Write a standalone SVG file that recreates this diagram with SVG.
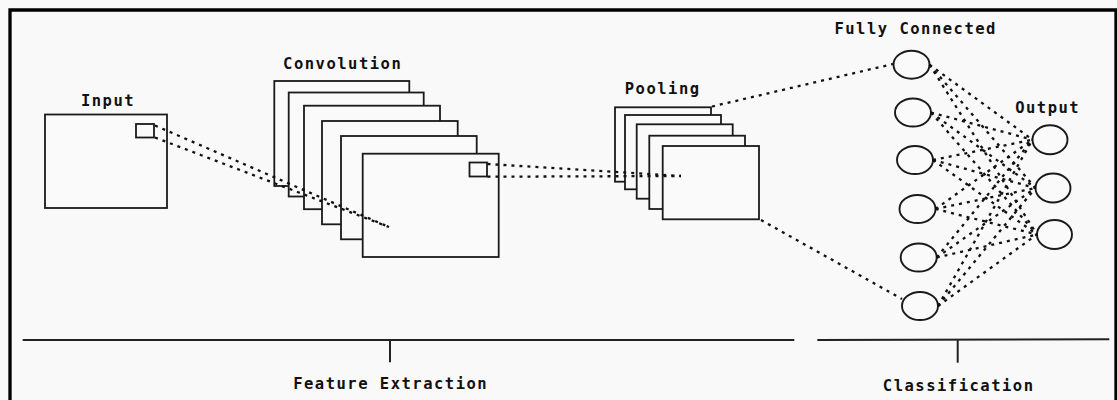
<svg xmlns="http://www.w3.org/2000/svg" width="1117" height="400" viewBox="0 0 1117 400">
<style>
.bg{fill:#f9f9f9}
.frame{fill:none;stroke:#000;stroke-width:3.3}
.box{fill:#fafafa;stroke:#1a1a1a;stroke-width:1.8}
.sq{fill:none;stroke:#1a1a1a;stroke-width:1.8}
.node{fill:#fafafa;stroke:#1a1a1a;stroke-width:1.9}
.dot{fill:none;stroke:#111;stroke-width:2.3;stroke-dasharray:3 5}
.rule{fill:none;stroke:#222;stroke-width:2}
.lbl{font-family:"DejaVu Sans Mono","Liberation Mono",monospace;font-weight:bold;font-size:15.5px;letter-spacing:1.5px;fill:#111;text-anchor:middle}
</style>
<rect class="bg" x="0" y="0" width="1117" height="400"/>
<path class="frame" d="M10,405 V10 H1116 V405"/>

<g id="input">
<rect class="box" x="45" y="114.5" width="122" height="93.5"/>
<rect class="sq" x="136" y="124" width="18" height="13.5"/>
<text class="lbl" x="108" y="106">Input</text>
</g>

<g id="convolution">
<rect class="box" x="274.3" y="81" width="135" height="105"/>
<rect class="box" x="288.7" y="92.5" width="135" height="104"/>
<rect class="box" x="304" y="105.7" width="136" height="103.5"/>
<rect class="box" x="322" y="121" width="135.7" height="103.3"/>
<rect class="box" x="341" y="136" width="135.7" height="103.3"/>
<rect class="box" x="362.7" y="153.7" width="136" height="103.3"/>
<rect class="sq" x="469.5" y="162.5" width="17.5" height="14"/>
<text class="lbl" x="342.7" y="69">Convolution</text>
</g>

<g id="pooling">
<rect class="box" x="615" y="107.3" width="96" height="74.4"/>
<rect class="box" x="625" y="115" width="96" height="74.3"/>
<rect class="box" x="636.7" y="124.3" width="96" height="74.4"/>
<rect class="box" x="649.3" y="135.7" width="95.7" height="73.3"/>
<rect class="box" x="662.7" y="146" width="96.3" height="73.3"/>
<text class="lbl" x="662.7" y="94">Pooling</text>
</g>

<g id="fully-connected">
<ellipse class="node" cx="911.5" cy="64.7" rx="18" ry="14"/>
<ellipse class="node" cx="913" cy="112.5" rx="18" ry="14"/>
<ellipse class="node" cx="915" cy="160" rx="18" ry="14"/>
<ellipse class="node" cx="917.5" cy="209" rx="18" ry="14"/>
<ellipse class="node" cx="918.7" cy="257.5" rx="18" ry="14"/>
<ellipse class="node" cx="920" cy="306" rx="18" ry="14"/>
<text class="lbl" x="915.7" y="33.5">Fully Connected</text>
</g>

<g id="output">
<ellipse class="node" cx="1050" cy="139.7" rx="17.5" ry="14.5"/>
<ellipse class="node" cx="1053" cy="188" rx="17.5" ry="14.5"/>
<ellipse class="node" cx="1054.5" cy="234.5" rx="17.5" ry="14.5"/>
<text class="lbl" x="1047.7" y="113">Output</text>
</g>

<g id="connectors">
<line class="dot" x1="155" y1="125.5" x2="389" y2="227"/>
<line class="dot" x1="155" y1="137.5" x2="389" y2="227"/>
<line class="dot" x1="487.5" y1="164" x2="681" y2="176"/>
<line class="dot" x1="487.5" y1="176.7" x2="681" y2="176"/>
<line class="dot" x1="712" y1="106.5" x2="893" y2="64"/>
<line class="dot" x1="761" y1="220" x2="902" y2="299"/>

<line class="dot" x1="929.5" y1="64.7" x2="1032.5" y2="139.7"/>
<line class="dot" x1="929.5" y1="64.7" x2="1035.5" y2="188"/>
<line class="dot" x1="929.5" y1="64.7" x2="1037" y2="234.5"/>
<line class="dot" x1="931" y1="112.5" x2="1032.5" y2="139.7"/>
<line class="dot" x1="931" y1="112.5" x2="1035.5" y2="188"/>
<line class="dot" x1="931" y1="112.5" x2="1037" y2="234.5"/>
<line class="dot" x1="933" y1="160" x2="1032.5" y2="139.7"/>
<line class="dot" x1="933" y1="160" x2="1035.5" y2="188"/>
<line class="dot" x1="933" y1="160" x2="1037" y2="234.5"/>
<line class="dot" x1="935.5" y1="209" x2="1032.5" y2="139.7"/>
<line class="dot" x1="935.5" y1="209" x2="1035.5" y2="188"/>
<line class="dot" x1="935.5" y1="209" x2="1037" y2="234.5"/>
<line class="dot" x1="936.7" y1="257.5" x2="1032.5" y2="139.7"/>
<line class="dot" x1="936.7" y1="257.5" x2="1035.5" y2="188"/>
<line class="dot" x1="936.7" y1="257.5" x2="1037" y2="234.5"/>
<line class="dot" x1="938" y1="306" x2="1032.5" y2="139.7"/>
<line class="dot" x1="938" y1="306" x2="1035.5" y2="188"/>
<line class="dot" x1="938" y1="306" x2="1037" y2="234.5"/>
</g>

<g id="feature-extraction">
<line class="rule" x1="22.7" y1="340" x2="794.3" y2="340"/>
<line class="rule" x1="390" y1="340" x2="390" y2="362.3"/>
<text class="lbl" x="390.7" y="389">Feature Extraction</text>
</g>

<g id="classification">
<line class="rule" x1="817.3" y1="340" x2="1109.3" y2="339.2"/>
<line class="rule" x1="957.7" y1="340" x2="957.7" y2="362.7"/>
<text class="lbl" x="958.7" y="390.5">Classification</text>
</g>
</svg>
